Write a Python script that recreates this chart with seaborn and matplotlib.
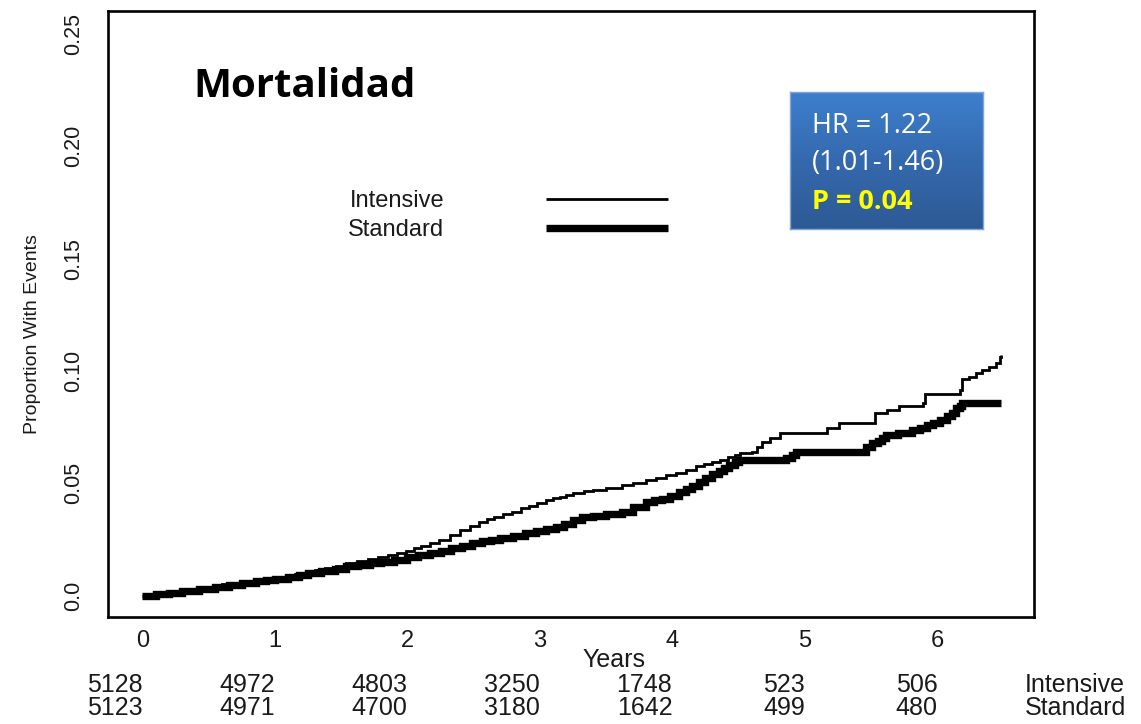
import numpy as np
import pandas as pd
import matplotlib
matplotlib.use("Agg")
import matplotlib.pyplot as plt
import seaborn as sns
from matplotlib import transforms
from matplotlib.lines import Line2D
from matplotlib.colors import LinearSegmentedColormap

# ---------------- data ----------------
groups = ["Intensive", "Standard"]

intensive_years = [0.00, 0.05, 0.15, 0.25, 0.35, 0.43, 0.52, 0.60, 0.70, 0.78, 0.86, 0.93,
                   1.00, 1.08, 1.15, 1.22, 1.30, 1.38, 1.46, 1.54, 1.62, 1.70, 1.78, 1.85,
                   1.92, 1.99, 2.05, 2.10, 2.17, 2.24, 2.32, 2.40, 2.47, 2.54, 2.60, 2.65,
                   2.72, 2.79, 2.86, 2.92, 2.98, 3.05, 3.10, 3.15, 3.20, 3.25, 3.33, 3.40,
                   3.50, 3.62, 3.70, 3.80, 3.88, 3.95, 4.03, 4.10, 4.18, 4.24, 4.30, 4.36,
                   4.42, 4.47, 4.51, 4.60, 4.64, 4.68, 4.74, 4.81, 5.17, 5.26, 5.53, 5.62,
                   5.71, 5.89, 5.91, 6.17, 6.19, 6.24, 6.29, 6.34, 6.39, 6.44, 6.47, 6.48]
intensive_prop = [0.0000, 0.0008, 0.0012, 0.0016, 0.0022, 0.0030, 0.0040, 0.0050, 0.0058, 0.0064,
                  0.0070, 0.0076, 0.0080, 0.0088, 0.0095, 0.0102, 0.0112, 0.0122, 0.0133, 0.0145,
                  0.0155, 0.0165, 0.0172, 0.0180, 0.0190, 0.0200, 0.0210, 0.0220, 0.0234, 0.0248,
                  0.0268, 0.0290, 0.0310, 0.0329, 0.0340, 0.0350, 0.0362, 0.0374, 0.0388, 0.0400,
                  0.0412, 0.0426, 0.0433, 0.0440, 0.0450, 0.0457, 0.0464, 0.0470, 0.0480, 0.0493,
                  0.0503, 0.0515, 0.0525, 0.0537, 0.0548, 0.0560, 0.0575, 0.0585, 0.0596, 0.0605,
                  0.0615, 0.0625, 0.0635, 0.0641, 0.0662, 0.0685, 0.0700, 0.0723, 0.0748, 0.0770,
                  0.0812, 0.0825, 0.0844, 0.0856, 0.0898, 0.0915, 0.0963, 0.0975, 0.0990, 0.1003,
                  0.1019, 0.1035, 0.1064, 0.1070]

standard_years = [0.00, 0.10, 0.20, 0.30, 0.43, 0.55, 0.65, 0.75, 0.86, 0.93, 1.00, 1.10,
                  1.18, 1.25, 1.35, 1.45, 1.54, 1.63, 1.72, 1.80, 1.90, 2.00, 2.08, 2.17,
                  2.25, 2.33, 2.41, 2.49, 2.56, 2.63, 2.70, 2.80, 2.89, 2.97, 3.05, 3.12,
                  3.18, 3.25, 3.32, 3.40, 3.50, 3.62, 3.70, 3.80, 3.86, 3.92, 3.98, 4.05,
                  4.10, 4.15, 4.20, 4.25, 4.30, 4.35, 4.39, 4.43, 4.47, 4.50, 4.86, 4.90,
                  4.93, 5.41, 5.46, 5.51, 5.55, 5.58, 5.61, 5.70, 5.81, 5.87, 5.92, 5.97,
                  6.02, 6.07, 6.11, 6.14, 6.17, 6.19, 6.48]
standard_prop = [0.0000, 0.0006, 0.0012, 0.0020, 0.0030, 0.0040, 0.0048, 0.0056, 0.0065, 0.0070,
                 0.0075, 0.0085, 0.0093, 0.0100, 0.0110, 0.0120, 0.0130, 0.0137, 0.0144, 0.0150,
                 0.0160, 0.0170, 0.0180, 0.0190, 0.0200, 0.0212, 0.0223, 0.0234, 0.0242, 0.0249,
                 0.0255, 0.0267, 0.0279, 0.0288, 0.0297, 0.0307, 0.0320, 0.0337, 0.0348, 0.0355,
                 0.0362, 0.0374, 0.0395, 0.0418, 0.0425, 0.0430, 0.0445, 0.0463, 0.0475, 0.0490,
                 0.0507, 0.0524, 0.0540, 0.0555, 0.0568, 0.0582, 0.0594, 0.0604, 0.0611, 0.0628,
                 0.0641, 0.0641, 0.0663, 0.0680, 0.0690, 0.0703, 0.0715, 0.0725, 0.0737, 0.0748,
                 0.0760, 0.0770, 0.0782, 0.0798, 0.0815, 0.0834, 0.0845, 0.0856, 0.0856]

year_ticks = [0, 1, 2, 3, 4, 5, 6]
y_ticks = [0.0, 0.05, 0.10, 0.15, 0.20, 0.25]
y_tick_labels = ["0.0", "0.05", "0.10", "0.15", "0.20", "0.25"]
at_risk_intensive = [5128, 4972, 4803, 3250, 1748, 523, 506]
at_risk_standard = [5123, 4971, 4700, 3180, 1642, 499, 480]
hr_lines = ["HR = 1.22", "(1.01-1.46)", "P = 0.04"]
title_text = "Mortalidad"

# ---------------- figure ----------------
sns.set_theme(style="white")
plt.rcParams["font.family"] = ["Liberation Sans", "DejaVu Sans"]

W, H = 1141, 724
TXT = "#1a1a1a"
fig = plt.figure(figsize=(W / 100, H / 100), dpi=100)
fig.patch.set_facecolor("white")
ax = fig.add_axes([108 / W, 1 - 617 / H, (1034 - 108) / W, (617 - 11) / H])
ax.set_facecolor("white")

df = pd.concat([
    pd.DataFrame({"years": intensive_years, "prop": intensive_prop, "group": groups[0]}),
    pd.DataFrame({"years": standard_years, "prop": standard_prop, "group": groups[1]}),
])
widths = {"Intensive": 2.0, "Standard": 5.3}
for g in groups:
    sub = df[df["group"] == g]
    sns.lineplot(data=sub, x="years", y="prop", ax=ax, color="black",
                 linewidth=widths[g], drawstyle="steps-post", estimator=None,
                 sort=False, legend=False, solid_capstyle="butt", solid_joinstyle="miter")

ax.set_xlim(-0.26, 6.73)
ax.set_ylim(-0.0095, 0.2602)
ax.set_xticks(year_ticks)
ax.set_xticklabels([str(t) for t in year_ticks], fontsize=17, color=TXT)
ax.set_yticks(y_ticks)
ax.set_yticklabels(y_tick_labels, fontsize=15.5, color=TXT)
for lab in ax.get_yticklabels():
    lab.set_rotation(90)
    lab.set_va("center")
ax.tick_params(axis="x", direction="out", length=7.5, width=1.8, pad=2, color="black")
ax.tick_params(axis="y", direction="out", length=8, width=1.8, pad=9, color="black")
for s in ax.spines.values():
    s.set_visible(True)
    s.set_color("black")
    s.set_linewidth(1.9)

ax.set_xlabel("")
ax.set_ylabel("Proportion With Events", fontsize=14, color=TXT)
ax.yaxis.set_label_coords(-0.081, 0.467)
ax.yaxis.label.set_va("center")

# title
ax.text((193 - 108) / 926, 1 - (97 - 11) / 606, title_text,
        transform=ax.transAxes, fontsize=29, fontweight="bold",
        family=["Open Sans", "DejaVu Sans"], color="black", va="baseline", ha="left")

# legend
handles = [Line2D([], [], color="black", lw=widths[g], solid_capstyle="butt") for g in groups]
ax.legend(handles, groups, markerfirst=False, frameon=False, loc="upper left",
          bbox_to_anchor=((348 - 108) / 926, 1 - (190 - 11) / 606),
          fontsize=17, handlelength=5.2, handletextpad=4.3, labelspacing=0.30,
          borderpad=0, borderaxespad=0, labelcolor=TXT)

# Years label + numbers at risk
bt = transforms.blended_transform_factory(ax.transData, fig.transFigure)
ax.text(3.56, 1 - 667 / H, "Years", transform=bt, fontsize=18, ha="center",
        va="baseline", color=TXT)
for x, a, b in zip(year_ticks, at_risk_intensive, at_risk_standard):
    ax.text(x, 1 - 715 / H, f"{a}\n{b}", transform=bt, fontsize=18, ha="right",
            multialignment="right", va="baseline", linespacing=0.93, color=TXT)
fig.text(1025 / W, 1 - 715 / H, f"{groups[0]}\n{groups[1]}", fontsize=18, ha="left",
         va="baseline", linespacing=0.93, color=TXT)

# HR box with gradient
bax = fig.add_axes([790 / W, 1 - 229 / H, 193 / W, 137 / H])
cmap = LinearSegmentedColormap.from_list("blueg", ["#3D80CE", "#3569AE", "#2D5A94"])
grad = np.linspace(0, 1, 256).reshape(-1, 1)
bax.imshow(grad, aspect="auto", cmap=cmap, extent=[0, 1, 0, 1], origin="upper")
bax.set_xticks([])
bax.set_yticks([])
for s in bax.spines.values():
    s.set_color("#7FA6DA")
    s.set_linewidth(1.0)
box_font = ["Open Sans", "DejaVu Sans"]
fig.text(812 / W, 1 - 133 / H, hr_lines[0], fontsize=19.5, color="white", family=box_font, va="baseline")
fig.text(812 / W, 1 - 170 / H, hr_lines[1], fontsize=19.5, color="white", family=box_font, va="baseline")
fig.text(812 / W, 1 - 209 / H, hr_lines[2], fontsize=19.5, color="#FFFF00", family=box_font,
         fontweight="bold", va="baseline")

fig.savefig("out.png", dpi=100, facecolor="white")
